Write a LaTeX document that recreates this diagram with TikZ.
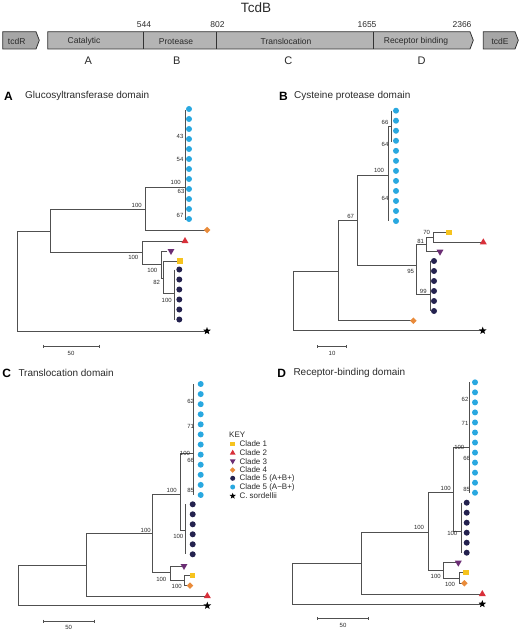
\documentclass[tikz,border=0pt]{standalone}
\usepackage{fontspec}
\setmainfont{Liberation Sans}
\usetikzlibrary{shapes.geometric}
\definecolor{cblue}{HTML}{29A8E0}
\definecolor{cnavy}{HTML}{24224F}
\definecolor{cyellow}{HTML}{F6C31E}
\definecolor{cred}{HTML}{D8303A}
\definecolor{cpurple}{HTML}{6B2D74}
\definecolor{corange}{HTML}{E98B3A}
\definecolor{linegray}{HTML}{505050}
\definecolor{genegray}{HTML}{B4B4B4}
\definecolor{genedark}{HTML}{A6A6A6}
\definecolor{txt}{HTML}{2A2A2A}
\newcommand\clade[5]{\draw[br] (#3,#2) -| (#1,#4) -- (#5,#4);}
\begin{document}
\begin{tikzpicture}[x=1pt,y=-1pt,
  br/.style={draw=linegray, line width=0.8pt},
  gene/.style={draw=black!80, line width=0.8pt, fill=genegray},
  lbl/.style={font=\fontsize{6}{7}\selectfont, inner sep=0pt, text=txt},
  genetxt/.style={font=\fontsize{8.5}{10}\selectfont, inner sep=0pt, text=txt},
  ptitle/.style={font=\fontsize{10}{12}\selectfont, inner sep=0pt, anchor=west, text=txt},
  pletter/.style={font=\fontsize{12}{14}\selectfont\bfseries, inner sep=0pt},
  keytxt/.style={font=\fontsize{8}{9}\selectfont, inner sep=0pt, anchor=west, text=txt},
  tip/.style={inner sep=0pt, outer sep=0pt},
  ysq/.style={tip, rectangle, minimum size=5.5pt, fill=cyellow},
  rtri/.style={tip, regular polygon, regular polygon sides=3, minimum size=8pt, fill=cred},
  ptri/.style={tip, regular polygon, regular polygon sides=3, shape border rotate=180, minimum size=8pt, fill=cpurple},
  odia/.style={tip, diamond, minimum size=6.5pt, fill=corange},
  ndot/.style={tip, circle, minimum size=6pt, fill=cnavy},
  bdot/.style={tip, circle, minimum size=6pt, fill=cblue},
  bstar/.style={tip, star, star points=5, star point ratio=2.4, minimum size=8pt, fill=black},
  sbar/.style={draw=linegray, line width=0.6pt}
]
\useasboundingbox (0,0) rectangle (520,631);

% ---------- gene map ----------
\node[font=\fontsize{13.5}{16}\selectfont, inner sep=0pt, text=txt] (title) at (256,8) {TcdB};
\draw[gene, fill=genedark] (2.7,31.7) -- (36,31.7) -- (39.3,40.3) -- (36,49) -- (2.7,49) -- cycle;
\draw[gene] (47.7,31.7) -- (470,31.7) -- (473.3,40.3) -- (470,49) -- (47.7,49) -- cycle;
\draw[gene, fill=genedark] (483.3,31.7) -- (515,31.7) -- (518.3,40.3) -- (515,49) -- (483.3,49) -- cycle;
\draw[draw=black!80, line width=0.8pt] (143,31.7) -- (143,49) (216,31.7) -- (216,49) (373,31.7) -- (373,49);
\node[genetxt] (gR) at (16.7,41.5) {tcdR};
\node[genetxt] (gCat) at (84,41.5) {Catalytic};
\node[genetxt] (gPro) at (176,41.5) {Protease};
\node[genetxt] (gTra) at (286,41.5) {Translocation};
\node[genetxt] (gRec) at (416,41.5) {Receptor binding};
\node[genetxt] (gE) at (500,41.5) {tcdE};
\node[genetxt] (n544) at (144,24.3) {544};
\node[genetxt] (n802) at (217.5,24.3) {802};
\node[genetxt] (n1655) at (367,24.3) {1655};
\node[genetxt] (n2366) at (462,24.3) {2366};
\node[font=\fontsize{11}{13}\selectfont, inner sep=0pt, text=txt] (lA) at (88.3,61) {A};
\node[font=\fontsize{11}{13}\selectfont, inner sep=0pt, text=txt] (lB) at (176.7,61) {B};
\node[font=\fontsize{11}{13}\selectfont, inner sep=0pt, text=txt] (lC) at (288.3,61) {C};
\node[font=\fontsize{11}{13}\selectfont, inner sep=0pt, text=txt] (lD) at (421.7,61) {D};

% ---------- panel A ----------
\node[pletter] (pA) at (8.5,96) {A};
\node[ptitle] (tA) at (25,96) {Glucosyltransferase domain};
\clade{17}{231}{50}{331}{207}
\clade{50}{209}{145}{252}{142}
\clade{145}{187}{185}{230}{207}
\draw[br] (185,110) -- (185,220);
\clade{142}{241}{185}{264}{161}
\clade{161}{251}{167}{278}{163.3}
\clade{163.3}{261}{180}{293}{174.3}
\draw[br] (174.3,269.5) -- (174.3,319.5);
\foreach \i in {0,...,11} \node[bdot] (A-b\i) at (189,109+10*\i) {};
\foreach \i in {0,...,5} \node[ndot] (A-n\i) at (179.3,269.5+10*\i) {};
\node[odia] (A-o) at (207,230) {};
\node[rtri] (A-r) at (185,241) {};
\node[ptri] (A-p) at (171,251) {};
\node[ysq] (A-y) at (180,261) {};
\node[bstar] (A-s) at (207,331) {};
\node[lbl] at (136.7,205) {100};
\node[lbl] at (175.7,182.7) {100};
\node[lbl] at (180,136.7) {43};
\node[lbl] at (180,159) {54};
\node[lbl] at (181,191) {63};
\node[lbl] at (180,215.7) {67};
\node[lbl] at (133.3,257.7) {100};
\node[lbl] at (152.3,270) {100};
\node[lbl] at (156.7,282.7) {82};
\node[lbl] at (166.7,300) {100};
\draw[sbar] (43,346) -- (99,346) (43,344.5) -- (43,347.5) (99,344.5) -- (99,347.5);
\node[lbl] (sA) at (71,353) {50};

% ---------- panel B ----------
\node[pletter] (pB) at (283.5,96) {B};
\node[ptitle] (tB) at (294,96) {Cysteine protease domain};
\clade{293.3}{271}{338.3}{330.7}{482.7}
\clade{338.3}{220.7}{357.7}{320.7}{413.3}
\clade{357.7}{175}{388.3}{265.7}{416.7}
\draw[br] (388.3,126.7) -- (388.3,221);
\draw[br] (388.3,126.7) -- (391.7,126.7);
\draw[br] (391.7,110.7) -- (391.7,141.7);
\clade{416.7}{244.3}{426.7}{294.3}{430}
\clade{426.7}{237.3}{433.3}{251.7}{440}
\clade{433.3}{232.3}{449}{242.3}{483.3}
\draw[br] (430,261) -- (430,311);
\foreach \i in {0,...,11} \node[bdot] (B-b\i) at (396,110.7+10.03*\i) {};
\foreach \i in {0,...,5} \node[ndot] (B-n\i) at (434,261+10*\i) {};
\node[odia] (B-o) at (413.3,320.7) {};
\node[ysq] (B-y) at (449,232.3) {};
\node[rtri] (B-r) at (483.3,242.3) {};
\node[ptri] (B-p) at (440,251.7) {};
\node[bstar] (B-s) at (482.7,330.7) {};
\node[lbl] at (385,122.7) {66};
\node[lbl] at (385,144.3) {64};
\node[lbl] at (379,170.7) {100};
\node[lbl] at (385,198.3) {64};
\node[lbl] at (350.7,216) {67};
\node[lbl] at (426.7,232.3) {70};
\node[lbl] at (420.7,241) {81};
\node[lbl] at (410.7,271) {95};
\node[lbl] at (423.3,291.7) {99};
\draw[sbar] (317.7,346.7) -- (346,346.7) (317.7,345.2) -- (317.7,348.2) (346,345.2) -- (346,348.2);
\node[lbl] (sB) at (332,353) {10};

% ---------- panel C ----------
\node[pletter] (pC) at (6.7,373) {C};
\node[ptitle] (tC) at (18.3,373) {Translocation domain};
\clade{18.3}{565.7}{86.7}{605.7}{207.3}
\clade{86.7}{533.3}{152.7}{596}{207.3}
\clade{152.7}{494}{180}{572.3}{170}
\clade{180}{453.3}{193.3}{530}{185.7}
\draw[br] (193.3,384) -- (193.3,495);
\draw[br] (185.7,504.3) -- (185.7,554.3);
\clade{170}{566}{184}{580.7}{184.3}
\clade{184.3}{575.3}{192.3}{585.7}{190}
\foreach \i in {0,...,11} \node[bdot] (C-b\i) at (200.7,384+10.09*\i) {};
\foreach \i in {0,...,5} \node[ndot] (C-n\i) at (192.7,504.3+10*\i) {};
\node[ptri] (C-p) at (184,566) {};
\node[ysq] (C-y) at (192.3,575.3) {};
\node[odia] (C-o) at (190,585.7) {};
\node[rtri] (C-r) at (207.3,596) {};
\node[bstar] (C-s) at (207.3,605.7) {};
\node[lbl] at (190.7,401.7) {62};
\node[lbl] at (190.7,426) {71};
\node[lbl] at (185,453.3) {100};
\node[lbl] at (190.7,460.7) {66};
\node[lbl] at (190.7,490.7) {85};
\node[lbl] at (171.7,490.7) {100};
\node[lbl] at (145.7,530) {100};
\node[lbl] at (178.3,536) {100};
\node[lbl] at (161.3,579) {100};
\node[lbl] at (176.7,586.7) {100};
\draw[sbar] (43.3,621) -- (94,621) (43.3,619.5) -- (43.3,622.5) (94,619.5) -- (94,622.5);
\node[lbl] (sC) at (68.7,627.3) {50};

% ---------- key ----------
\node[keytxt] (key) at (229,435) {KEY};
\node[ysq, minimum size=4.5pt] (k1s) at (232.7,444) {};
\node[keytxt] (k1) at (239.3,444) {Clade 1};
\node[rtri, minimum size=6.5pt] (k2s) at (232.7,452.9) {};
\node[keytxt] (k2) at (239.3,452.7) {Clade 2};
\node[ptri, minimum size=6.5pt] (k3s) at (232.7,461.1) {};
\node[keytxt] (k3) at (239.3,461.3) {Clade 3};
\node[odia, minimum size=5.5pt] (k4s) at (232.7,470) {};
\node[keytxt] (k4) at (239.3,470) {Clade 4};
\node[ndot, minimum size=5pt] (k5s) at (232.7,478.3) {};
\node[keytxt] (k5) at (239.3,478.3) {Clade 5 (A+B+)};
\node[bdot, minimum size=5pt] (k6s) at (232.7,487) {};
\node[keytxt] (k6) at (239.3,487) {Clade 5 (A\textminus B+)};
\node[bstar, minimum size=6.5pt] (k7s) at (232.7,496) {};
\node[keytxt] (k7) at (239.3,496) {C. sordellii};

% ---------- panel D ----------
\node[pletter] (pD) at (281.7,373.3) {D};
\node[ptitle] (tD) at (293.3,373.3) {Receptor-binding domain};
\clade{292.3}{563.3}{361}{604}{482.3}
\clade{361}{532.3}{428.3}{594}{482.3}
\clade{428.3}{492.3}{453.3}{570.7}{443.3}
\clade{453.3}{447.3}{469.3}{531.7}{461.7}
\draw[br] (469.3,382.3) -- (469.3,492.7);
\draw[br] (461.7,502.7) -- (461.7,552.7);
\clade{443.3}{562.7}{458.3}{578.3}{459.3}
\clade{459.3}{572.3}{466}{583.3}{464.3}
\foreach \i in {0,...,11} \node[bdot] (D-b\i) at (475,382.3+10.04*\i) {};
\foreach \i in {0,...,5} \node[ndot] (D-n\i) at (466.7,502.7+10*\i) {};
\node[ptri] (D-p) at (458.3,562.7) {};
\node[ysq] (D-y) at (466,572.3) {};
\node[odia] (D-o) at (464.3,583.3) {};
\node[rtri] (D-r) at (482.3,594) {};
\node[bstar] (D-s) at (482.3,604) {};
\node[lbl] at (465,399.3) {62};
\node[lbl] at (465,423.3) {71};
\node[lbl] at (459.3,447.5) {100};
\node[lbl] at (466.7,458.3) {66};
\node[lbl] at (466.7,489) {85};
\node[lbl] at (445.7,488.3) {100};
\node[lbl] at (419,527.7) {100};
\node[lbl] at (452.3,533.3) {100};
\node[lbl] at (435.7,576.7) {100};
\node[lbl] at (450,584) {100};
\draw[sbar] (317.7,618.3) -- (368.3,618.3) (317.7,616.8) -- (317.7,619.8) (368.3,616.8) -- (368.3,619.8);
\node[lbl] (sD) at (343,625) {50};
\end{tikzpicture}
\end{document}
